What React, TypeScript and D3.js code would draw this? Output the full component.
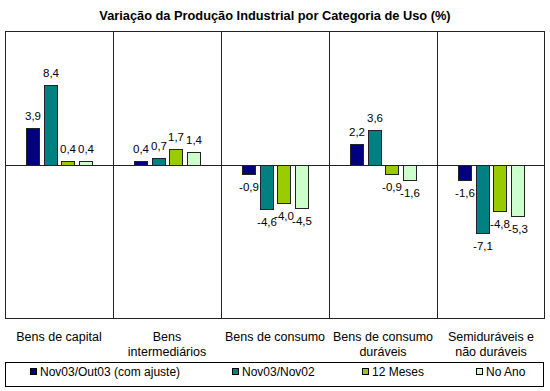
import React from "react";
import * as d3 from "d3";

const categories: string[][] = [
  ["Bens de capital"],
  ["Bens", "intermediários"],
  ["Bens de consumo"],
  ["Bens de consumo", "duráveis"],
  ["Semiduráveis e", "não duráveis"],
];
const seriesNames = ["Nov03/Out03 (com ajuste)", "Nov03/Nov02", "12 Meses", "No Ano"];
const seriesColors = ["#000080", "#008080", "#99CC00", "#CCFFCC"];
const s1 = [3.9, 0.4, -0.9, 2.2, -1.6];
const s2 = [8.4, 0.7, -4.6, 3.6, -7.1];
const s3 = [0.4, 1.7, -4.0, -0.9, -4.8];
const s4 = [0.4, 1.4, -4.5, -1.6, -5.3];
const series = [s1, s2, s3, s4];
const yDomain: [number, number] = [-16, 14];
const legendX = [30, 232, 362, 476];

const W = 550, H = 391;
const L = 5, R = 545, T = 31, B = 318;
const font = "Arial, 'Liberation Sans', sans-serif";

export default function App() {
  const x0 = d3.scaleBand<number>().domain(d3.range(categories.length)).range([L, R]).padding(0);
  const x1 = d3.scaleBand<number>().domain(d3.range(4)).range([21, 87]).paddingInner(0.264).paddingOuter(0);
  const y = d3.scaleLinear().domain(yDomain).range([B, T]);
  const fmt = (v: number) => v.toFixed(1).replace(".", ",");
  const y0 = Math.round(y(0)) + 0.5;

  return (
    <svg width={W} height={H} style={{ position: "absolute", left: 0, top: 0, background: "#fff" }} fontFamily={font}>
      <text x={275} y={20} textAnchor="middle" fontSize={12.8} fontWeight="bold">
        Variação da Produção Industrial por Categoria de Uso (%)
      </text>
      <rect x={L + 0.5} y={T + 0.5} width={R - L - 1} height={B - T} fill="none" stroke="#222" />
      {d3.range(1, categories.length).map((i) => (
        <line key={i} x1={Math.round(x0(i)!) + 0.5} x2={Math.round(x0(i)!) + 0.5} y1={T} y2={B} stroke="#222" />
      ))}
      {series.map((s, si) =>
        s.map((v, ci) => {
          const bx = Math.round(x0(ci)! + x1(si)!);
          const bw = Math.round(x1.bandwidth());
          const yt = Math.round(y(Math.max(0, v)));
          const yb = Math.round(y(Math.min(0, v)));
          return (
            <g key={`${si}-${ci}`}>
              <rect x={bx + 0.5} y={yt + 0.5} width={bw} height={Math.max(1, yb - yt)} fill={seriesColors[si]} stroke="#222" />
              <text
                x={bx + bw / 2 + 0.5}
                y={v >= 0 ? yt - 8 : yb + 17}
                textAnchor="middle"
                fontSize={11.5}
                fill="#000"
              >
                {fmt(v)}
              </text>
            </g>
          );
        })
      )}
      <line x1={L} x2={R} y1={y0} y2={y0} stroke="#222" />
      {categories.map((lines, ci) => (
        <text key={ci} x={x0(ci)! + x0.bandwidth() / 2} y={341} textAnchor="middle" fontSize={12.5}>
          {lines.map((ln, li) => (
            <tspan key={li} x={x0(ci)! + x0.bandwidth() / 2} dy={li === 0 ? 0 : 15.3}>
              {ln}
            </tspan>
          ))}
        </text>
      ))}
      <rect x={5.5} y={362.5} width={538} height={24} fill="#fff" stroke="#000" />
      {seriesNames.map((n, i) => (
        <g key={n}>
          <rect x={legendX[i] + 0.5} y={368.5} width={6} height={6} fill={seriesColors[i]} stroke="#000" />
          <text x={legendX[i] + 10} y={375.5} fontSize={12}>
            {n}
          </text>
        </g>
      ))}
    </svg>
  );
}
